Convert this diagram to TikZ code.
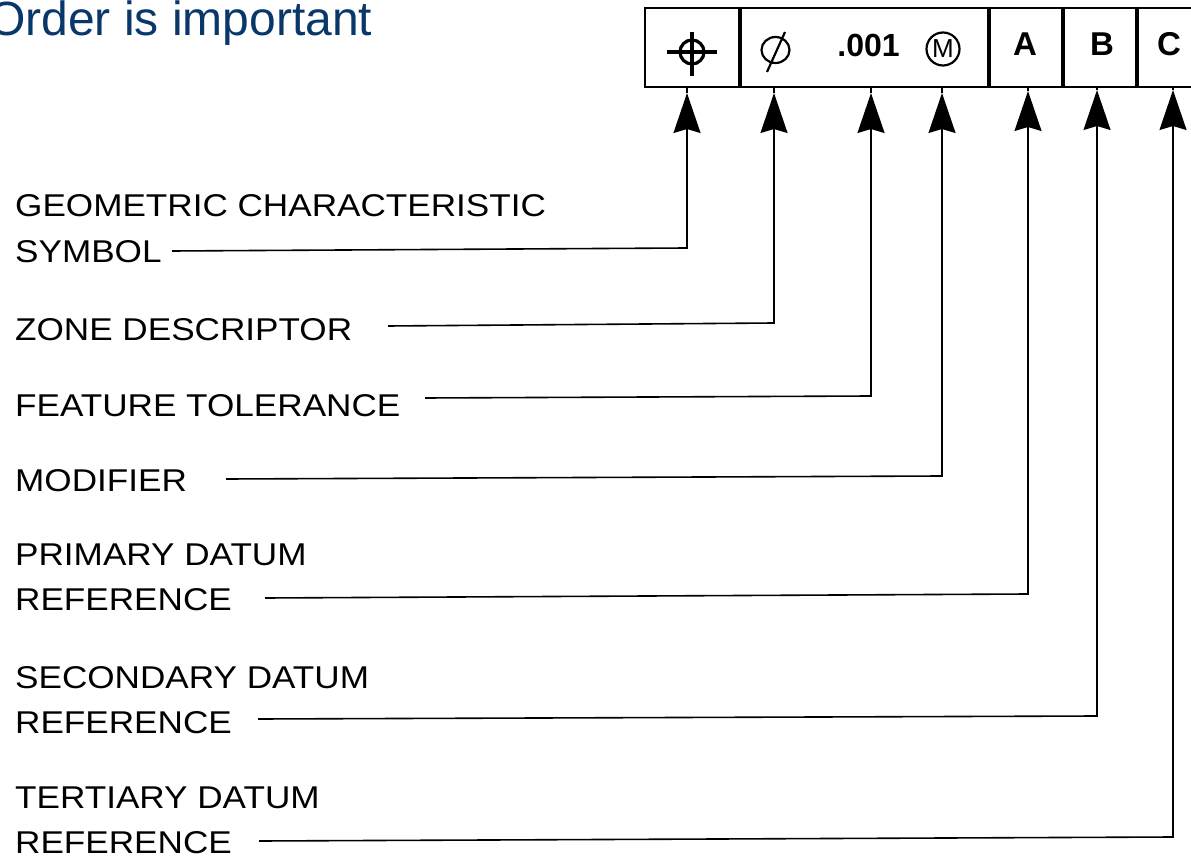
\documentclass[tikz,border=0pt]{standalone}
\usepackage{fontspec}
\setmainfont{Liberation Sans}
\newfontfamily\lblfont[FakeStretch=1.115]{Liberation Sans}
\usetikzlibrary{arrows.meta}
\definecolor{titleblue}{RGB}{10,55,105}
\begin{document}
\begin{tikzpicture}[x=1pt,y=-1pt,
  lbl/.style={anchor=base west, inner sep=0pt, font=\lblfont\fontsize{31.5}{38}\selectfont},
  cell/.style={draw, line width=2pt, inner sep=0pt, minimum height=79pt},
  celltxt/.style={inner sep=0pt, font=\bfseries\fontsize{33}{33}\selectfont},
  conn/.style={line width=1.6pt, -{Stealth[length=40pt,width=27pt,inset=4pt]}},
  stub/.style={line width=1.6pt},
  divider/.style={line width=4pt}
]
\useasboundingbox (0,0) rectangle (1191,858);

% title
\node[anchor=base west, inner sep=0pt, text=titleblue,
      font=\fontsize{48}{48}\selectfont] (title) at (-12,36) {Order is important};

% feature control frame
\node[cell, minimum width=94pt]  (sym) at (692,47.5) {};
\node[cell, minimum width=249pt] (tol) at (863.5,47.5) {};
\node[cell, minimum width=74pt]  (da)  at (1025,47.5) {};
\node[cell, minimum width=74pt]  (db)  at (1099,47.5) {};
\node[cell, minimum width=74pt]  (dc)  at (1173,47.5) {};
\draw[line width=3pt] (sym.north east) -- (sym.south east);
\draw[divider] (tol.north east) -- (tol.south east);
\draw[divider] (da.north east) -- (da.south east);
\draw[divider] (db.north east) -- (db.south east);

% position symbol
\draw[line width=3.2pt] (692,52) circle (12);
\draw[line width=3.5pt] (667,52) -- (717,52);
\draw[line width=3.5pt] (692,32) -- (692,76);
% diameter symbol
\draw[line width=2.2pt] (775.5,50) ellipse (14 and 13);
\draw[line width=2.2pt] (785,32) -- (767,72);
% tolerance value
\node[celltxt, font=\bfseries\fontsize{32}{32}\selectfont] (val) at (868.5,45) {.001};
% modifier
\draw[line width=2.2pt] (943,49) circle (16.5);
\node[inner sep=0pt, font=\fontsize{26}{26}\selectfont] (mm) at (943,49) {M};
% datum letters
\node[celltxt] (la) at (1025,44.5) {A};
\node[celltxt] (lb) at (1102,44.5) {B};
\node[celltxt] (lc) at (1169,44.5) {C};

% labels
\node[lbl] (geo1) at (15,217) {GEOMETRIC CHARACTERISTIC};
\node[lbl] (geo)  at (15,263) {SYMBOL};
\node[lbl] (zone) at (15,341) {ZONE DESCRIPTOR};
\node[lbl] (feat) at (15,416) {FEATURE TOLERANCE};
\node[lbl] (modi) at (15,491) {MODIFIER};
\node[lbl] (pri1) at (15,565) {PRIMARY DATUM};
\node[lbl] (pri)  at (15,610) {REFERENCE};
\node[lbl] (sec1) at (15,688) {SECONDARY DATUM};
\node[lbl] (sec)  at (15,733) {REFERENCE};
\node[lbl] (ter1) at (15,808) {TERTIARY DATUM};
\node[lbl] (ter)  at (15,853) {REFERENCE};

% line starts, corners, tips
\coordinate (s1) at (172,251);  \coordinate (k1) at (687,248);  \coordinate (t1) at (687,93);
\coordinate (s2) at (388,326);  \coordinate (k2) at (774,323);  \coordinate (t2) at (774,93);
\coordinate (s3) at (425,398);  \coordinate (k3) at (871,396);  \coordinate (t3) at (871,93);
\coordinate (s4) at (226,479);  \coordinate (k4) at (942,476);  \coordinate (t4) at (942,93);
\coordinate (s5) at (265,598);  \coordinate (k5) at (1028,594); \coordinate (t5) at (1028,91);
\coordinate (s6) at (258,719);  \coordinate (k6) at (1097,716); \coordinate (t6) at (1097,90);
\coordinate (s7) at (259,841);  \coordinate (k7) at (1173,837); \coordinate (t7) at (1173,90);

\draw[conn] (s1) -- (k1) -- (t1);
\draw[conn] (s2) -- (k2) -- (t2);
\draw[conn] (s3) -- (k3) -- (t3);
\draw[conn] (s4) -- (k4) -- (t4);
\draw[conn] (s5) -- (k5) -- (t5);
\draw[conn] (s6) -- (k6) -- (t6);
\draw[conn] (s7) -- (k7) -- (t7);

\draw[stub] (t1) -- (sym.south -| t1);
\draw[stub] (t2) -- (tol.south -| t2);
\draw[stub] (t3) -- (tol.south -| t3);
\draw[stub] (t4) -- (tol.south -| t4);
\draw[stub] (t5) -- (da.south -| t5);
\draw[stub] (t6) -- (db.south -| t6);
\draw[stub] (t7) -- (dc.south -| t7);
\end{tikzpicture}
\end{document}
